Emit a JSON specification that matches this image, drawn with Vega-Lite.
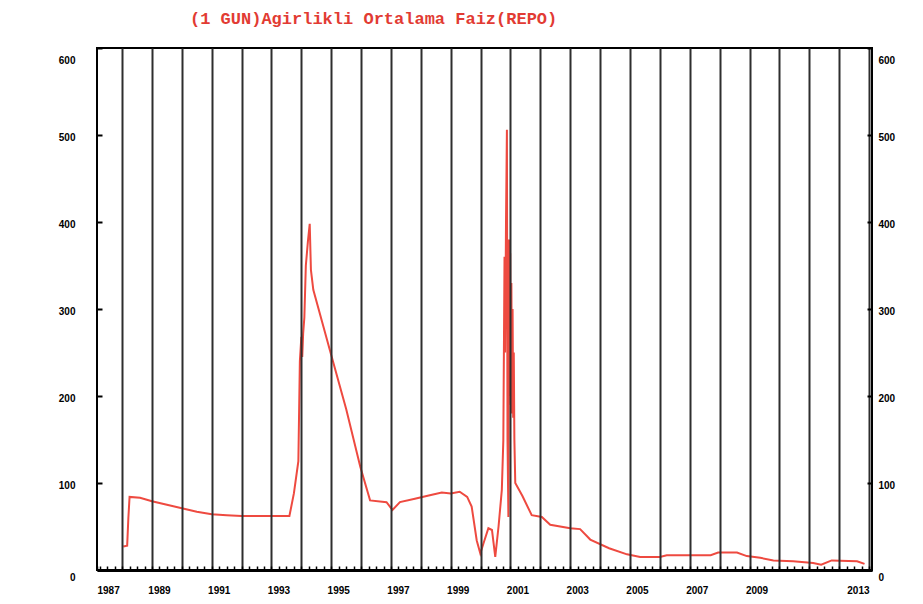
{
  "$schema": "https://vega.github.io/schema/vega-lite/v6.json",
  "width": 775,
  "height": 522,
  "autosize": "none",
  "padding": {"left": 97, "top": 48, "right": 51, "bottom": 34},
  "background": "white",
  "title": {
    "text": "(1 GUN)Agirlikli Ortalama Faiz(REPO)",
    "anchor": "start",
    "frame": "group",
    "dx": 93,
    "offset": 19,
    "font": "Liberation Mono",
    "fontSize": 17,
    "fontWeight": "bold",
    "color": "#e23b33"
  },
  "config": {
    "view": {"stroke": "#000000", "strokeWidth": 2},
    "axis": {
      "labelFont": "Liberation Sans",
      "labelFontWeight": "bold",
      "labelFontSize": 10,
      "labelColor": "#000000",
      "tickColor": "#000000",
      "title": null
    }
  },
  "data": {
    "values": [
      {"t": 1988.04, "v": 27}, {"t": 1988.17, "v": 28}, {"t": 1988.21, "v": 60}, {"t": 1988.25, "v": 84},
      {"t": 1988.6, "v": 83}, {"t": 1989.0, "v": 79}, {"t": 1989.5, "v": 75}, {"t": 1990.0, "v": 71},
      {"t": 1990.5, "v": 67}, {"t": 1991.0, "v": 64}, {"t": 1991.5, "v": 63}, {"t": 1992.0, "v": 62},
      {"t": 1992.5, "v": 62}, {"t": 1993.0, "v": 62}, {"t": 1993.6, "v": 62},
      {"t": 1993.75, "v": 88}, {"t": 1993.9, "v": 125}, {"t": 1993.95, "v": 240}, {"t": 1994.0, "v": 268},
      {"t": 1994.03, "v": 245}, {"t": 1994.06, "v": 272}, {"t": 1994.1, "v": 290}, {"t": 1994.15, "v": 350},
      {"t": 1994.22, "v": 378}, {"t": 1994.28, "v": 398},
      {"t": 1994.32, "v": 345}, {"t": 1994.4, "v": 322}, {"t": 1994.96, "v": 252}, {"t": 1995.5, "v": 185},
      {"t": 1995.97, "v": 119}, {"t": 1996.3, "v": 80}, {"t": 1996.85, "v": 78}, {"t": 1997.05, "v": 69},
      {"t": 1997.3, "v": 78}, {"t": 1997.8, "v": 82}, {"t": 1998.3, "v": 86}, {"t": 1998.7, "v": 89},
      {"t": 1999.0, "v": 88}, {"t": 1999.3, "v": 90}, {"t": 1999.55, "v": 84}, {"t": 1999.7, "v": 73},
      {"t": 1999.87, "v": 34}, {"t": 1999.99, "v": 19}, {"t": 2000.1, "v": 31}, {"t": 2000.26, "v": 48},
      {"t": 2000.38, "v": 46}, {"t": 2000.49, "v": 15}, {"t": 2000.6, "v": 50}, {"t": 2000.71, "v": 92},
      {"t": 2000.76, "v": 149}, {"t": 2000.8, "v": 360}, {"t": 2000.82, "v": 250}, {"t": 2000.85, "v": 400},
      {"t": 2000.88, "v": 506}, {"t": 2000.9, "v": 150}, {"t": 2000.93, "v": 61}, {"t": 2000.95, "v": 380},
      {"t": 2000.97, "v": 200}, {"t": 2000.99, "v": 364}, {"t": 2001.01, "v": 190}, {"t": 2001.03, "v": 330},
      {"t": 2001.05, "v": 180}, {"t": 2001.07, "v": 300}, {"t": 2001.09, "v": 175}, {"t": 2001.11, "v": 250},
      {"t": 2001.13, "v": 150}, {"t": 2001.16, "v": 100}, {"t": 2001.4, "v": 85}, {"t": 2001.71, "v": 63},
      {"t": 2002.05, "v": 61}, {"t": 2002.33, "v": 52}, {"t": 2003.0, "v": 48}, {"t": 2003.33, "v": 47},
      {"t": 2003.67, "v": 35}, {"t": 2004.3, "v": 25}, {"t": 2004.9, "v": 18}, {"t": 2005.34, "v": 15},
      {"t": 2006.0, "v": 15}, {"t": 2006.23, "v": 17}, {"t": 2007.7, "v": 17}, {"t": 2007.95, "v": 20},
      {"t": 2008.58, "v": 20}, {"t": 2008.91, "v": 16}, {"t": 2009.36, "v": 14}, {"t": 2009.8, "v": 11},
      {"t": 2010.46, "v": 10}, {"t": 2011.13, "v": 8}, {"t": 2011.4, "v": 6}, {"t": 2011.75, "v": 11},
      {"t": 2012.6, "v": 10}, {"t": 2012.85, "v": 7}
    ]
  },
  "layer": [
    {
      "mark": {"type": "line", "color": "#ee4a40", "strokeWidth": 2},
      "encoding": {
        "x": {
          "field": "t",
          "type": "quantitative",
          "scale": {"domain": [1987.16, 2013.1], "nice": false, "zero": false},
          "axis": {
            "values": [1987.16, 1987.25, 1987.5, 1987.75, 1988, 1988.25, 1988.5, 1988.75, 1989, 1989.25, 1989.5, 1989.75, 1990, 1990.25, 1990.5, 1990.75, 1991, 1991.25, 1991.5, 1991.75, 1992, 1992.25, 1992.5, 1992.75, 1993, 1993.25, 1993.5, 1993.75, 1994, 1994.25, 1994.5, 1994.75, 1995, 1995.25, 1995.5, 1995.75, 1996, 1996.25, 1996.5, 1996.75, 1997, 1997.25, 1997.5, 1997.75, 1998, 1998.25, 1998.5, 1998.75, 1999, 1999.25, 1999.5, 1999.75, 2000, 2000.25, 2000.5, 2000.75, 2001, 2001.25, 2001.5, 2001.75, 2002, 2002.25, 2002.5, 2002.75, 2003, 2003.25, 2003.5, 2003.75, 2004, 2004.25, 2004.5, 2004.75, 2005, 2005.25, 2005.5, 2005.75, 2006, 2006.25, 2006.5, 2006.75, 2007, 2007.25, 2007.5, 2007.75, 2008, 2008.25, 2008.5, 2008.75, 2009, 2009.25, 2009.5, 2009.75, 2010, 2010.25, 2010.5, 2010.75, 2011, 2011.25, 2011.5, 2011.75, 2012, 2012.25, 2012.5, 2012.75, 2013],
            "tickCount": 300,
            "labelExpr": "datum.value == 1987.16 ? '1987' : (datum.value == 2013 ? '2013' : ((datum.value % 2 == 1 && datum.value <= 2009) ? format(datum.value, 'd') : ''))",
            "grid": true,
            "gridColor": "#2e2e2e",
            "gridWidth": 2,
            "gridOpacity": {"condition": {"test": "datum.value % 1 == 0", "value": 1}, "value": 0},
            "tickSize": -4,
            "tickWidth": 1.5,
            "domain": true,
            "domainColor": "#000000",
            "domainWidth": 3,
            "labelFlush": 3,
            "labelOverlap": false,
            "labelPadding": 19,
            "labelOffset": {"condition": {"test": "datum.value > 1988 && datum.value < 2012", "value": 7}, "value": 0},
            "zindex": 1
          }
        },
        "y": {
          "field": "v",
          "type": "quantitative",
          "scale": {"domain": [0, 600], "nice": false},
          "axis": {
            "values": [0, 100, 200, 300, 400, 500, 600],
            "tickCount": 20,
            "grid": false,
            "domain": false,
            "tickSize": -5,
            "tickWidth": 2,
            "labelPadding": 27,
            "labelOffset": {"condition": [{"test": "datum.value == 600", "value": 12}, {"test": "datum.value == 0", "value": 7}], "value": 2},
            "zindex": 1
          }
        }
      }
    },
    {
      "mark": {"type": "line", "opacity": 0},
      "encoding": {
        "x": {"field": "t", "type": "quantitative"},
        "y": {
          "field": "v",
          "type": "quantitative",
          "axis": {
            "orient": "right",
            "values": [0, 100, 200, 300, 400, 500, 600],
            "tickCount": 20,
            "grid": false,
            "domain": false,
            "tickSize": -5,
            "tickWidth": 2,
            "labelPadding": 11,
            "labelOffset": {"condition": [{"test": "datum.value == 600", "value": 12}, {"test": "datum.value == 0", "value": 7}], "value": 2},
            "zindex": 1
          }
        }
      }
    }
  ],
  "resolve": {"axis": {"y": "independent"}}
}
